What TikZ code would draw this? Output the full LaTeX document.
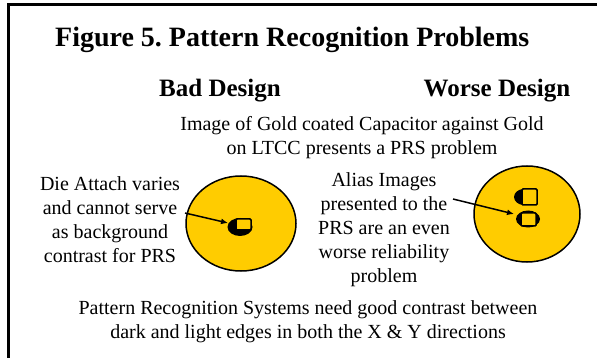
\documentclass[tikz,border=0pt]{standalone}
\usepackage{fontspec}
\setmainfont{Liberation Serif}
\usepackage{tikz}
\usetikzlibrary{arrows.meta,positioning}
\definecolor{gold}{RGB}{255,204,0}
\frenchspacing
\tikzset{
  frameline/.style={line width=2.5pt, black},
  titletext/.style={font=\fontsize{28}{32}\selectfont\bfseries, inner sep=0pt},
  headtext/.style={font=\fontsize{25}{29}\selectfont\bfseries, inner sep=0pt},
  bodytext/.style={font=\fontsize{20}{24}\selectfont, align=center, inner sep=0pt},
  pad/.style={draw=black, line width=1.5pt, fill=gold},
  blob/.style={fill=black},
  chip/.style={draw=black, line width=1.5pt, fill=gold, rounded corners=1pt},
  ptr/.style={-{Latex[length=7pt,width=6pt]}, line width=1.5pt},
}
\begin{document}
\begin{tikzpicture}[x=1pt,y=-1pt]
  \useasboundingbox (0,0) rectangle (597,358);
  % frame
  \draw[frameline] (7,4.5) -- (597,4.5);
  \draw[frameline] (8.5,3.5) -- (8.5,358);
  % headings
  \node[titletext,anchor=base west] (title) at (55,47) {Figure 5. Pattern Recognition Problems};
  \node[headtext,anchor=base] (bad) at (220,97) {Bad Design};
  \node[headtext,anchor=base] (worse) at (497,97) {Worse Design};
  \node[bodytext] (image) at (362,138) {Image of Gold coated Capacitor against Gold\\on LTCC presents a PRS problem};
  % Bad design
  \node[bodytext] (dieLabel) at (110,220) {Die Attach varies\\and cannot serve\\as background\\contrast for PRS};
  \draw[pad] (241,223.5) ellipse [x radius=55, y radius=47.5];
  \fill[blob] (240,227) ellipse [x radius=12.5, y radius=9];
  \draw[chip] (236,219) rectangle (251,230);
  \coordinate (dieTail) at (185,213);
  \coordinate (dieTip) at (228,223);
  \draw[ptr] (dieTail) -- (dieTip);
  % Worse design
  \node[bodytext] (aliasLabel) at (384,230) {Alias Images\\presented to the\\PRS are an even\\worse reliability\\problem};
  \draw[pad] (527,214) ellipse [x radius=53, y radius=48];
  \fill[blob] (524,197) ellipse [x radius=10, y radius=8];
  \draw[chip] (522,189) rectangle (537,205);
  \fill[blob] (528,219) ellipse [x radius=12, y radius=8.5];
  \draw[chip] (521,213) rectangle (536,226);
  \coordinate (aliasTail) at (453,199);
  \coordinate (aliasTip) at (514,214);
  \draw[ptr] (aliasTail) -- (aliasTip);
  % bottom note
  \node[bodytext] (note) at (308,322) {Pattern Recognition Systems need good contrast between\\dark and light edges in both the X \& Y directions};
\end{tikzpicture}
\end{document}
